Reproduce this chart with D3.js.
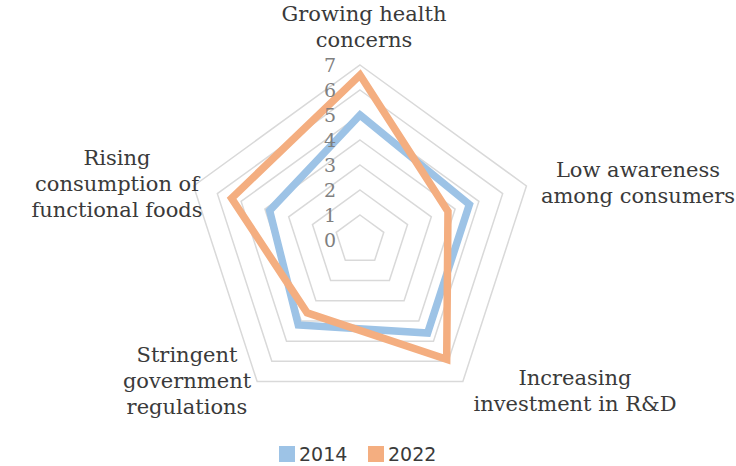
<!DOCTYPE html>
<html>
<head>
<meta charset="utf-8">
<script src="https://cdn.jsdelivr.net/npm/d3@7"></script>
<style>
  body { margin: 0; background: #fff; }
  svg { display: block; }
</style>
</head>
<body>
<svg id="chart" width="736" height="466"></svg>
<script>
// data
var categories = [
  ["Growing health", "concerns"],
  ["Low awareness", "among consumers"],
  ["Increasing", "investment in R&D"],
  ["Stringent", "government", "regulations"],
  ["Rising", "consumption of", "functional foods"]
];
var years = ["2014", "2022"];
var values2014 = [5.0, 4.6, 4.6, 4.2, 3.8];
var values2022 = [6.6, 3.7, 5.9, 3.6, 5.4];
var ticks = [0, 1, 2, 3, 4, 5, 6, 7];

var colors = ["#9dc3e6", "#f4ae80"];

var svg = d3.select("#chart"),
    cx = 360,
    cy = 240;

var r = d3.scaleLinear()
    .domain([0, 7])
    .range([0, 175]);

var angle = d3.scalePoint()
    .domain(d3.range(categories.length))
    .range([0, 2 * Math.PI * (categories.length - 1) / categories.length]);

var g = svg.append("g")
    .attr("transform", "translate(" + cx + "," + cy + ")");

var radial = d3.lineRadial()
    .angle(function(d, i) { return angle(i); })
    .radius(function(d) { return r(d); })
    .curve(d3.curveLinearClosed);

// grid rings, 1..7
g.append("g")
    .attr("class", "grid")
  .selectAll("path")
  .data(ticks.filter(function(t) { return t > 0; }))
  .enter().append("path")
    .attr("d", function(t) { return radial(categories.map(function() { return t; })); })
    .attr("fill", "none")
    .attr("stroke", "#d9d9d9")
    .attr("stroke-width", 1.5);

// series lines
var series = [values2014, values2022];
g.append("g")
    .attr("class", "series")
  .selectAll("path")
  .data(series)
  .enter().append("path")
    .attr("d", radial)
    .attr("fill", "none")
    .attr("stroke", function(d, i) { return colors[i]; })
    .attr("stroke-width", 7.5)
    .attr("stroke-linejoin", "miter");

// value axis labels
g.append("g")
    .attr("class", "ticks")
  .selectAll("text")
  .data(ticks)
  .enter().append("text")
    .attr("x", -30)
    .attr("y", function(t) { return -r(t); })
    .attr("dy", "0.35em")
    .attr("text-anchor", "middle")
    .attr("font-family", "DejaVu Serif")
    .attr("font-size", 19)
    .attr("fill", "#7f7f7f")
    .text(function(t) { return t; });

// category labels - nudged per spoke like excel does
var labelPos = [
  { dx: 4, dy: -219 },
  { dx: 278, dy: -63 },
  { dx: 215, dy: 145 },
  { dx: -173, dy: 122 },
  { dx: -243, dy: -75 }
];

var labels = g.append("g")
    .attr("class", "labels")
  .selectAll("text")
  .data(categories)
  .enter().append("text")
    .attr("x", function(d, i) { return labelPos[i].dx; })
    .attr("y", function(d, i) { return labelPos[i].dy; })
    .attr("text-anchor", "middle")
    .attr("font-family", "DejaVu Serif")
    .attr("font-size", 21)
    .attr("fill", "#3a3a3a");

labels.selectAll("tspan")
  .data(function(d, i) { return d.map(function(s) { return { s: s, x: labelPos[i].dx }; }); })
  .enter().append("tspan")
    .attr("x", function(d) { return d.x; })
    .attr("dy", function(d, j) { return j ? 26 : 0; })
    .text(function(d) { return d.s; });

// legend
var legend = svg.append("g")
    .attr("class", "legend")
    .attr("transform", "translate(279,446)");

var item = legend.selectAll("g")
  .data(years)
  .enter().append("g")
    .attr("transform", function(d, i) { return "translate(" + (i * 89) + ",0)"; });

item.append("rect")
    .attr("width", 16)
    .attr("height", 16)
    .attr("fill", function(d, i) { return colors[i]; });

item.append("text")
    .attr("x", 20)
    .attr("y", 15)
    .attr("font-family", "DejaVu Sans")
    .attr("font-size", 19)
    .attr("fill", "#3a3a3a")
    .text(function(d) { return d; });
</script>
</body>
</html>
